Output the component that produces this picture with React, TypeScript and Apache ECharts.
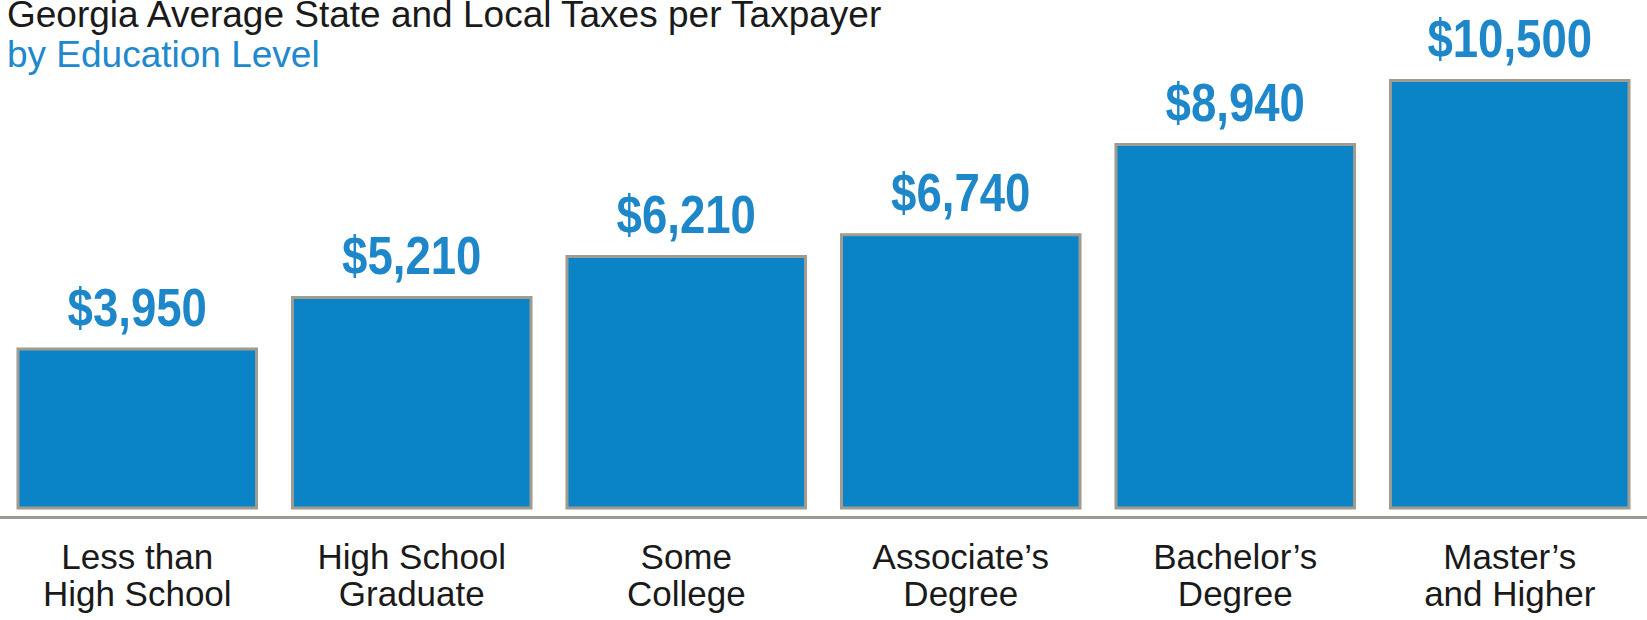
import React, { useEffect, useRef } from "react";
import * as echarts from "echarts";

const titleText = "Georgia Average State and Local Taxes per Taxpayer";
const subtitleText = "by Education Level";
const categories = [
  "Less than\nHigh School",
  "High School\nGraduate",
  "Some\nCollege",
  "Associate\u2019s\nDegree",
  "Bachelor\u2019s\nDegree",
  "Master\u2019s\nand Higher",
];
const values = [3950, 5210, 6210, 6740, 8940, 10500];

const fmt = (v: number) => "$" + v.toLocaleString("en-US");

export default function App() {
  const ref = useRef<HTMLDivElement>(null);
  useEffect(() => {
    if (!ref.current) return;
    const chart = echarts.init(ref.current, undefined, { renderer: "svg" });
    chart.setOption({
      animation: false,
      backgroundColor: "#ffffff",
      title: {
        text: titleText,
        subtext: subtitleText,
        left: 7,
        top: -4,
        padding: 0,
        itemGap: 3,
        textStyle: {
          fontFamily: "Liberation Sans, Arial, sans-serif",
          fontSize: 37,
          fontWeight: "normal",
          color: "#1a1a1a",
        },
        subtextStyle: {
          fontFamily: "Liberation Sans, Arial, sans-serif",
          fontSize: 37,
          color: "#2088cc",
        },
      },
      grid: { left: -5, right: -7, top: 17.5, bottom: 110.5, containLabel: false },
      xAxis: {
        type: "category",
        data: categories,
        offset: 8,
        axisLine: { onZero: false, lineStyle: { color: "#9d988e", width: 3 } },
        axisTick: { alignWithLabel: true, length: 8, lineStyle: { color: "#8f8a80", width: 2 } },
        axisLabel: {
          margin: 20,
          fontFamily: "Liberation Sans, Arial, sans-serif",
          fontSize: 35,
          lineHeight: 37,
          color: "#1a1a1a",
          interval: 0,
        },
      },
      yAxis: {
        type: "value",
        min: 0,
        max: 12000,
        show: false,
        splitLine: { show: false },
      },
      series: [
        {
          type: "bar",
          data: values,
          barCategoryGap: "12%",
          itemStyle: { color: "#0a83c7", borderColor: "#a19c90", borderWidth: 3 },
        },
        {
          type: "custom",
          data: values.map((v, i) => [i, v]),
          clip: false,
          silent: true,
          renderItem: (params: any, api: any) => {
            const v = api.value(1);
            const p = api.coord([api.value(0), v]);
            return {
              type: "text",
              x: p[0],
              y: p[1] - 14,
              scaleX: 0.86,
              style: {
                text: fmt(v),
                fontFamily: "Liberation Sans, Arial, sans-serif",
                fontWeight: "bold",
                fontSize: 53,
                fill: "#1e87c9",
                align: "center",
                verticalAlign: "bottom",
              },
            };
          },
        },
      ],
    });
    return () => chart.dispose();
  }, []);
  return (
    <div
      ref={ref}
      style={{ width: 1647, height: 620, position: "absolute", left: 0, top: 0 }}
    />
  );
}
